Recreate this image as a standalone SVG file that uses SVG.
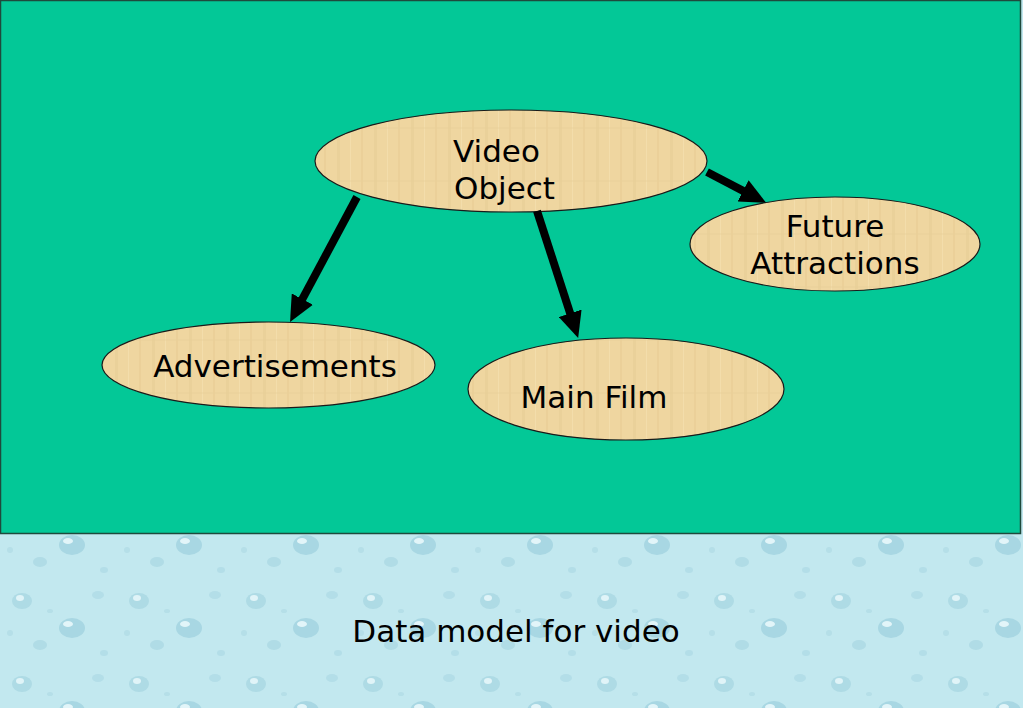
<svg xmlns="http://www.w3.org/2000/svg" width="1023" height="708" viewBox="0 0 1023 708">
<style>
.node ellipse{fill:url(#papyrus);stroke:#1a1a1a;stroke-width:1.2}
.lbl{font-family:"DejaVu Sans",Verdana,sans-serif;font-size:31px;fill:#000}
.conn line{stroke:#000;stroke-width:8;marker-end:url(#head)}
</style>
<defs>
<marker id="head" markerUnits="userSpaceOnUse" markerWidth="26" markerHeight="24" refX="6" refY="12" orient="auto">
<path d="M0,0 L26,12 L0,24 z" fill="#000"/>
</marker>
<pattern id="papyrus" patternUnits="userSpaceOnUse" width="37" height="53">
<rect width="37" height="53" fill="#efd6a0"/>
<rect x="4" width="3" height="53" fill="#e6cb93" opacity="0.5"/>
<rect x="17" width="1" height="53" fill="#f5e1b3" opacity="0.6"/>
<rect x="28" width="2" height="53" fill="#e5c98e" opacity="0.4"/>
<rect y="21" width="37" height="2" fill="#e8cf98" opacity="0.4"/>
</pattern>
<pattern id="drops" patternUnits="userSpaceOnUse" width="117" height="83">
<rect width="117" height="83" fill="#c2e8ef"/>
<ellipse cx="22" cy="20" rx="10" ry="8" fill="#aedbe5"/>
<ellipse cx="20" cy="17" rx="4" ry="3" fill="#e0f4f8"/>
<ellipse cx="72" cy="47" rx="13" ry="10" fill="#a8d7e3"/>
<ellipse cx="68" cy="43" rx="5" ry="3" fill="#e2f5f9"/>
<ellipse cx="98" cy="14" rx="6" ry="4" fill="#b3dee8"/>
<ellipse cx="40" cy="64" rx="7" ry="5" fill="#b0dce6"/>
<ellipse cx="10" cy="52" rx="3" ry="3" fill="#b5dfe8"/>
<ellipse cx="104" cy="72" rx="4" ry="3" fill="#b3dee8"/>
<ellipse cx="50" cy="30" rx="3" ry="2" fill="#b5dfe8"/>
</pattern>
</defs>
<rect x="0" y="0" width="1023" height="708" fill="#c2e8ef"/>
<rect x="0" y="533" width="1023" height="175" fill="url(#drops)"/>
<rect x="0.5" y="0.5" width="1020" height="533" fill="#03c897" stroke="#1f4a3c" stroke-width="1.5"/>
<g id="video-object" class="node">
<ellipse cx="511" cy="161" rx="196" ry="51"/>
<text class="lbl" x="453" y="162">Video</text>
<text class="lbl" x="454" y="199">Object</text>
</g>
<g id="advertisements" class="node">
<ellipse cx="268.5" cy="365" rx="166.5" ry="43"/>
<text class="lbl" x="275" y="377" text-anchor="middle">Advertisements</text>
</g>
<g id="main-film" class="node">
<ellipse cx="626" cy="389" rx="158" ry="51"/>
<text class="lbl" x="594" y="408" text-anchor="middle">Main Film</text>
</g>
<g id="future-attractions" class="node">
<ellipse cx="835" cy="244" rx="145" ry="47"/>
<text class="lbl" x="835" y="237" text-anchor="middle">Future</text>
<text class="lbl" x="835" y="274" text-anchor="middle">Attractions</text>
</g>
<g id="connectors" class="conn">
<line x1="357" y1="197" x2="299.5" y2="304.4"/>
<line x1="537" y1="211" x2="572" y2="319"/>
<line x1="707" y1="172" x2="748.4" y2="193.6"/>
</g>
<g id="caption">
<text class="lbl" x="516" y="642" text-anchor="middle">Data model for video</text>
</g>
</svg>
